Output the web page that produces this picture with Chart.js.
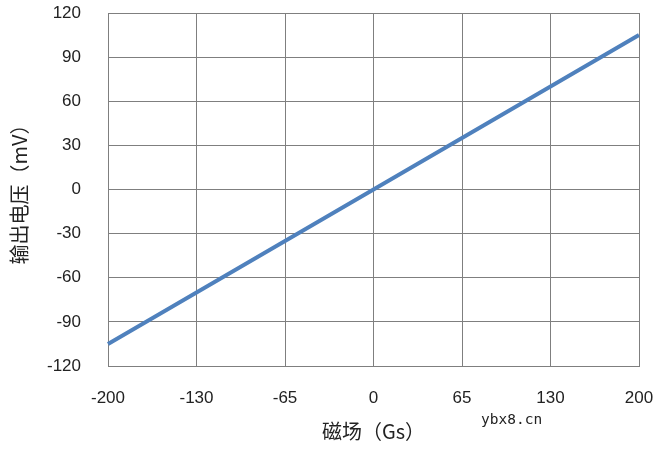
<!DOCTYPE html>
<html>
<head>
<meta charset="utf-8">
<script src="https://cdn.jsdelivr.net/npm/chart.js@4"></script>
<style>
  body { margin: 0; background: #fff; }
  #wrap { position: relative; width: 660px; height: 450px; }
  #mark { position: absolute; left: 481px; top: 411px; font: 14.5px "DejaVu Sans Mono", monospace; color: #222; }
</style>
</head>
<body>
<div id="wrap">
  <canvas id="myChart" width="660" height="450"></canvas>
  <div id="mark">ybx8.cn</div>
</div>
<script>
// 磁场 (Gs) 刻度
const fieldLabels = ['-200', '-130', '-65', '0', '65', '130', '200'];
// 输出电压 (mV)
const voltage = [-105, -70, -35, 0, 35, 70, 105];
const yMin = -120, yMax = 120, yStep = 30;

(() => {
    const ctx = document.getElementById('myChart').getContext('2d');
    const font = { family: '"Liberation Sans", Arial, sans-serif', size: 17 };
    const cjkFont = { family: '"Noto Sans CJK SC", "Liberation Sans", sans-serif', size: 20 };
    new Chart(ctx, {
        type: 'line',
        data: {
            labels: fieldLabels,
            datasets: [{
                data: voltage,
                borderColor: '#4f81bd',
                borderWidth: 4,
                pointRadius: 0,
                fill: false,
                tension: 0
            }]
        },
        options: {
            responsive: false,
            animation: false,
            layout: { padding: { top: 13, right: 21, bottom: 3, left: 0 } },
            plugins: { legend: { display: false }, tooltip: { enabled: false } },
            scales: {
                x: {
                    type: 'category',
                    offset: false,
                    grid: { color: '#7f7f7f', lineWidth: 1, drawTicks: false },
                    border: { color: '#7f7f7f' },
                    ticks: { color: '#222', font: font, padding: 22, maxRotation: 0 },
                    title: { display: true, text: '磁场（Gs）', color: '#222', font: cjkFont, padding: { top: 4, bottom: 4 } },
                    afterFit: (s) => { s.height = 81; s.paddingLeft = 0; s.paddingRight = 0; }
                },
                y: {
                    min: yMin,
                    max: yMax,
                    grid: { color: '#7f7f7f', lineWidth: 1, drawTicks: false },
                    border: { color: '#7f7f7f' },
                    ticks: { stepSize: yStep, color: '#222', font: font, padding: 27 },
                    title: { display: true, text: '输出电压（mV）', color: '#222', font: cjkFont, padding: { top: 7, bottom: 2 } },
                    afterFit: (s) => { s.width = 108; s.paddingTop = 13; s.paddingBottom = 0; }
                }
            }
        }
    });
})();
</script>
</body>
</html>
